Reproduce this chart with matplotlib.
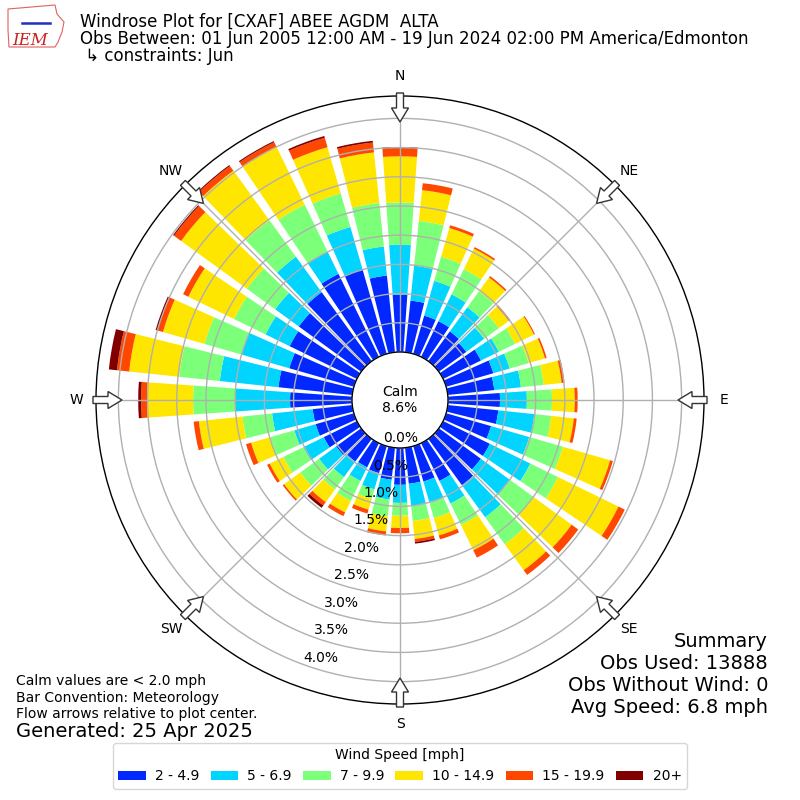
import numpy as np
import matplotlib
matplotlib.use("Agg")
import matplotlib.pyplot as plt
from matplotlib.patches import Patch, Circle, Polygon

# ---------------- data ----------------
directions = list(range(0, 360, 10))  # degrees, meteorological
speed_bins = ["2 - 4.9", "5 - 6.9", "7 - 9.9", "10 - 14.9", "15 - 19.9", "20+"]
colors = ["#0028ff", "#00d4ff", "#7cff79", "#ffe600", "#ff4700", "#800000"]

b_2_5 = [0.98, 0.89, 0.68, 0.68, 0.63, 0.58, 0.72, 0.84, 0.80, 0.89, 0.87, 0.80,
         0.89, 0.89, 0.98, 0.72, 0.63, 0.62, 0.63, 0.55, 0.48, 0.46, 0.48, 0.53,
         0.63, 0.68, 0.68, 1.06, 1.27, 1.15, 1.28, 1.32, 1.46, 1.58, 1.51, 1.32]
b_5_7 = [0.86, 0.60, 0.62, 0.51, 0.51, 0.38, 0.34, 0.29, 0.46, 0.46, 0.62, 0.68,
         0.77, 0.62, 0.68, 0.43, 0.38, 0.38, 0.31, 0.34, 0.29, 0.26, 0.33, 0.36,
         0.39, 0.38, 0.70, 0.94, 1.01, 0.86, 0.46, 0.50, 0.75, 0.43, 0.75, 0.50]
b_7_10 = [0.72, 0.77, 0.43, 0.48, 0.34, 0.31, 0.31, 0.34, 0.39, 0.43, 0.29, 0.60,
          0.53, 0.50, 0.57, 0.41, 0.27, 0.26, 0.22, 0.29, 0.17, 0.38, 0.26, 0.40,
          0.38, 0.43, 0.51, 0.72, 0.70, 0.65, 0.60, 0.60, 0.77, 0.89, 0.60, 0.75]
b_10_15 = [0.79, 0.53, 0.51, 0.39, 0.29, 0.21, 0.36, 0.29, 0.31, 0.39, 0.39, 0.84,
           1.15, 0.80, 0.55, 0.48, 0.31, 0.31, 0.21, 0.26, 0.19, 0.22, 0.27, 0.34,
           0.26, 0.34, 0.75, 0.79, 0.86, 0.74, 0.87, 1.39, 1.05, 1.10, 0.82, 0.87]
b_15_20 = [0.14, 0.12, 0.05, 0.03, 0.03, 0.03, 0.02, 0.03, 0.05, 0.05, 0.05, 0.05,
           0.12, 0.14, 0.10, 0.14, 0.07, 0.05, 0.09, 0.07, 0.07, 0.07, 0.07, 0.03,
           0.05, 0.09, 0.09, 0.10, 0.21, 0.10, 0.10, 0.15, 0.10, 0.09, 0.17, 0.17]
b_20p = [0.02, 0.00, 0.00, 0.00, 0.00, 0.00, 0.00, 0.00, 0.00, 0.00, 0.00, 0.00,
         0.00, 0.00, 0.00, 0.00, 0.00, 0.03, 0.00, 0.00, 0.00, 0.00, 0.05, 0.00,
         0.00, 0.00, 0.00, 0.05, 0.14, 0.03, 0.00, 0.02, 0.02, 0.02, 0.03, 0.03]
series = [b_2_5, b_5_7, b_7_10, b_10_15, b_15_20, b_20p]

calm_pct = 8.6
ring_ticks = [0.0, 0.5, 1.0, 1.5, 2.0, 2.5, 3.0, 3.5, 4.0]
compass = ["N", "NE", "E", "SE", "S", "SW", "W", "NW"]
compass_deg = [0, 45, 90, 135, 180, 225, 270, 315]

# ---------------- layout ----------------
W = H = 800
fig = plt.figure(figsize=(8, 8), dpi=100)
cx, cy, R = 400, 400, 304          # pixel centre / radius of polar axes
ax = fig.add_axes([(cx - R) / W, (cy - R) / H, 2 * R / W, 2 * R / H],
                  projection="polar")
ax.set_theta_zero_location("N")
ax.set_theta_direction(-1)

calm_off = 0.822                    # radius of calm circle in % units
rmax = 5.205
ax.set_ylim(0, rmax)

theta = np.radians(directions)
width = np.radians(8.0)
bottom = np.full(len(directions), calm_off)
for vals, col in zip(series, colors):
    v = np.array(vals)
    ax.bar(theta, v, width=width, bottom=bottom, color=col, linewidth=0,
           zorder=1)
    bottom = bottom + v

# grid
ax.set_yticks([calm_off + t for t in ring_ticks])
ax.set_yticklabels([])
ax.set_xticks(np.radians(compass_deg))
ax.set_xticklabels([])
ax.set_axisbelow(False)
ax.grid(True, color="#b0b0b0", linewidth=1.0)
ax.tick_params(length=0)
ax.spines["polar"].set_color("black")
ax.spines["polar"].set_linewidth(1.0)

# calm circle
ax.add_patch(Circle((0.5, 0.5), 0.5 * calm_off / rmax, transform=ax.transAxes,
                    facecolor="white", edgecolor="black", linewidth=1.0,
                    zorder=3))
ax.text(0.5, 0.5, "Calm\n%.1f%%" % calm_pct, transform=ax.transAxes,
        ha="center", va="center", fontsize=10, zorder=5)

# ring labels
lab_ang = np.radians(200.0)
for t in ring_ticks:
    ax.text(lab_ang, calm_off + t, "%.1f%%" % t, ha="left", va="bottom",
            fontsize=10, zorder=5)

# compass labels and arrows
for name, d in zip(compass, compass_deg):
    a = np.radians(d)
    s, c = np.sin(a), np.cos(a)
    rl = 324
    fig.text((cx + rl * s) / W, (cy + rl * c) / H, name, ha="center",
             va="center", fontsize=10)
    pts_uv = [(278, 0), (292, 8.5), (292, 3.5), (307, 3.5), (307, -3.5),
              (292, -3.5), (292, -8.5)]
    pts = [((cx + u * s + v * c) / W, (cy + u * c - v * s) / H)
           for u, v in pts_uv]
    fig.patches.append(Polygon(pts, closed=True, transform=fig.transFigure,
                               facecolor="white", edgecolor="#333333",
                               linewidth=1.0, zorder=10))

# ---------------- logo (approximate) ----------------
logo = [(8, 9), (55, 5), (57, 14), (64, 22), (62, 32), (58, 42), (55, 47),
        (9, 47), (8, 30)]
fig.patches.append(Polygon([(x / W, 1 - y / H) for x, y in logo], closed=True,
                           transform=fig.transFigure, facecolor="none",
                           edgecolor="#e06060", linewidth=0.8))
fig.lines.append(plt.Line2D([22 / W, 50 / W], [1 - 23 / H, 1 - 23 / H],
                            transform=fig.transFigure, color="#2030c0",
                            linewidth=1.8))
fig.text(30 / W, 1 - 45 / H, "IEM", fontsize=12, color="#cc2020",
         family="serif", style="italic", ha="center", va="baseline")

# ---------------- texts ----------------
fig.text(80 / W, 1 - 27 / H, "Windrose Plot for [CXAF] ABEE AGDM  ALTA",
         fontsize=12, va="baseline")
fig.text(80 / W, 1 - 44 / H,
         "Obs Between: 01 Jun 2005 12:00 AM - 19 Jun 2024 02:00 PM America/Edmonton",
         fontsize=12, va="baseline")
fig.text(80 / W, 1 - 61 / H, " \u21b3 constraints: Jun", fontsize=12,
         va="baseline")

fig.text(16 / W, 1 - 685 / H, "Calm values are < 2.0 mph", fontsize=10,
         va="baseline")
fig.text(16 / W, 1 - 702 / H, "Bar Convention: Meteorology", fontsize=10,
         va="baseline")
fig.text(16 / W, 1 - 718 / H, "Flow arrows relative to plot center.",
         fontsize=10, va="baseline")
fig.text(16 / W, 1 - 737 / H, "Generated: 25 Apr 2025", fontsize=14,
         va="baseline")

summary = ["Summary", "Obs Used: 13888", "Obs Without Wind: 0",
           "Avg Speed: 6.8 mph"]
for i, line in enumerate(summary):
    fig.text(768 / W, 1 - (647 + 22 * i) / H, line, fontsize=14, ha="right",
             va="baseline")

handles = [Patch(facecolor=c, edgecolor="none", label=l)
           for c, l in zip(colors, speed_bins)]
fig.legend(handles=handles, loc="lower center", bbox_to_anchor=(0.5, 11 / H),
           ncol=6, title="Wind Speed [mph]", fontsize=10, title_fontsize=10,
           borderaxespad=0, handlelength=2.0, handletextpad=0.65,
           columnspacing=0.8)

fig.savefig("out.png", dpi=100)
